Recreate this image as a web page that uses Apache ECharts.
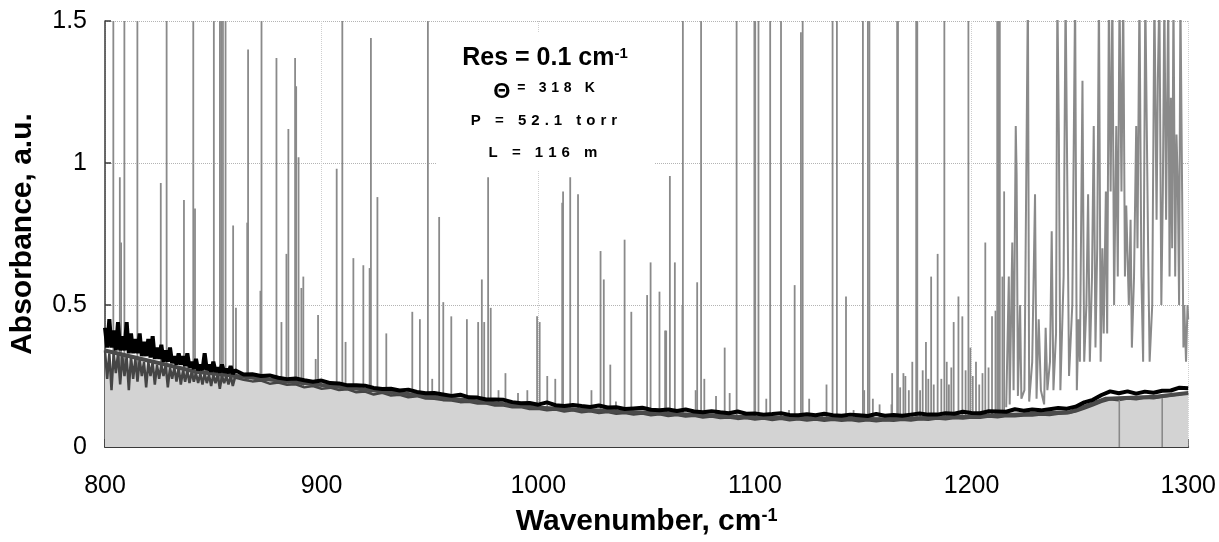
<!DOCTYPE html>
<html><head><meta charset="utf-8">
<script src="https://cdn.jsdelivr.net/npm/echarts@6/dist/echarts.min.js"></script>
<style>html,body{margin:0;padding:0;background:#fff}#c{width:1219px;height:542px}</style>
</head><body><div id="c"></div>
<script>
// ---------- data ----------
const xTickLabels = ['800', '900', '1000', '1100', '1200', '1300'];
const yTickLabels = ['0', '0.5', '1', '1.5'];

// isolated absorption lines [wavenumber, peak absorbance]; 1.6 = off scale (clipped at 1.5)
const peaks = [
  [803.8,1.6],[806.8,0.95],[807.4,0.72],[808.9,1.6],[814.9,1.6],[825.7,0.93],[828.4,1.6],
  [836.4,0.87],[840.7,1.6],[841.5,0.84],[850.2,1.6],[853.0,1.6],[853.6,1.6],[854.4,1.6],
  [855.6,1.6],[859.1,0.78],[860.4,0.49],[865.6,0.79],[866.0,1.40],[871.7,0.55],[872.2,1.6],
  [879.1,1.37],[881.4,0.44],[883.7,0.68],[884.6,1.12],[887.7,1.37],[888.2,1.27],[889.3,1.02],
  [890.6,0.56],[891.5,0.60],[897.2,0.31],[898.3,0.465],[906.9,0.98],[909.5,1.6],[911.0,0.37],
  [914.6,0.665],[919.2,0.64],[922.1,0.63],[922.7,1.44],[925.7,0.88],[929.8,0.40],[932.0,0.2],
  [940.0,0.2],[941.8,0.476],[945.3,0.45],[949.0,1.6],[951.0,0.24],[954.2,0.81],[956.1,0.51],
  [959.8,0.46],[967.0,0.45],[972.2,0.44],[973.9,0.59],[975.0,0.44],[976.8,0.95],[978.0,0.49],
  [981.6,0.2],[984.8,0.26],[990.6,0.19],[994.9,0.2],[999.4,0.46],[1000.6,0.44],[1004.1,0.25],
  [1007.8,0.24],[1011.0,0.86],[1011.4,0.90],[1014.7,0.95],[1018.3,0.89],[1024.5,0.2],
  [1028.7,0.69],[1030.2,0.59],[1033.2,0.29],[1035.8,0.16],[1039.8,0.73],[1042.9,0.476],
  [1050.2,0.535],[1051.8,0.65],[1055.9,0.547],[1058.5,0.41],[1059.0,0.41],[1060.7,0.954],
  [1063.0,0.65],[1066.5,0.5],[1066.7,1.6],[1072.6,0.2],[1073.3,0.58],[1075.1,1.6],[1076.6,0.24],
  [1082.0,0.18],[1086.0,0.35],[1088.3,0.19],[1091.5,1.6],[1099.7,1.6],[1100.1,1.6],[1101.6,1.6],
  [1105.2,0.17],[1107.0,1.6],[1112.0,1.6],[1115.7,0.13],[1118.3,0.57],[1121.2,1.46],[1122.0,1.6],
  [1125.0,0.17],[1131.0,0.12],[1133.0,0.22],[1135.8,1.6],[1137.8,1.6],[1142.0,0.53],[1145.5,0.13],
  [1149.8,1.6],[1150.4,0.2],[1152.1,1.6],[1152.8,1.6],[1154.4,0.17],[1157.5,0.15],[1163.0,0.15],
  [1163.3,0.26],[1165.6,1.6],[1166.0,1.6],[1167.0,0.21],[1168.5,0.26],[1169.4,0.25],[1171.0,0.2],
  [1172.6,0.3],[1174.4,1.6],[1174.9,1.6],[1176.2,0.2],[1177.4,0.27],[1178.9,0.37],[1180.0,0.24],
  [1181.3,0.60],[1182.5,0.22],[1184.3,0.68],[1186.0,0.24],[1187.4,1.6],[1188.5,0.3],[1189.5,0.22],
  [1190.6,0.28],[1191.7,0.44],[1193.9,0.53],[1195.7,0.46],[1197.2,0.27],[1198.5,1.6],[1199.4,0.35],
  [1200.5,0.25],[1202.0,0.3],[1203.5,0.22],[1205.0,0.26],[1206.3,0.72],[1207.8,0.28],[1209.4,0.46],
  [1211.0,0.48],[1211.8,1.6],[1212.3,1.6],[1213.0,1.6],[1214.2,0.6],[1215.0,0.90]
];

// dense line forest at the high-wavenumber end [wavenumber, absorbance]
const denseForest = [
  [1216.0,0.14],[1217.2,0.6],[1217.6,0.15],[1218.8,0.72],[1219.4,0.2],[1220.4,1.13],[1220.8,0.96],
  [1221.4,0.18],[1222.4,0.5],[1223.0,0.17],[1224.4,0.2],[1226.0,1.6],[1226.6,0.16],[1228.0,0.3],
  [1229.3,0.89],[1230.0,0.17],[1231.0,0.45],[1232.0,0.2],[1233.5,0.15],[1234.2,0.42],[1235.0,0.2],
  [1236.2,0.3],[1237.0,0.76],[1237.8,0.2],[1239.0,0.4],[1239.6,1.6],[1240.3,1.1],[1241.0,0.2],
  [1242.5,0.6],[1243.4,1.6],[1244.2,1.6],[1245.0,0.25],[1246.5,0.5],[1247.8,1.6],[1248.6,0.2],
  [1249.4,0.45],[1250.0,0.3],[1251.2,1.29],[1252.0,0.3],[1253.0,0.5],[1253.8,0.89],[1254.6,0.3],
  [1255.6,0.6],[1256.4,1.13],[1257.2,0.35],[1258.0,0.7],[1258.8,1.6],[1259.6,0.3],[1260.4,0.7],
  [1261.0,0.4],[1262.0,0.9],[1262.6,0.4],[1263.4,1.6],[1264.2,0.9],[1265.0,1.6],[1265.8,0.5],
  [1266.8,1.13],[1267.5,0.6],[1268.3,1.6],[1269.2,0.9],[1270.0,1.6],[1270.8,0.6],[1271.4,0.85],
  [1272.6,0.5],[1273.4,0.8],[1274.0,0.35],[1275.0,0.6],[1276.0,1.13],[1276.6,0.7],[1277.5,1.6],
  [1278.4,0.6],[1279.2,0.3],[1280.2,1.6],[1281.5,0.7],[1282.2,0.3],[1283.4,0.5],[1284.4,1.6],
  [1285.4,0.8],[1286.0,1.3],[1286.7,1.6],[1287.6,0.5],[1288.3,0.9],[1289.0,1.6],[1289.8,0.8],
  [1290.8,1.6],[1291.4,0.6],[1292.0,1.23],[1292.6,0.7],[1293.2,1.6],[1294.0,0.6],[1294.6,1.1],
  [1295.2,0.93],[1295.8,0.5],[1296.4,1.6],[1297.2,0.9],[1297.8,0.35],[1298.2,0.5],[1299.0,0.3],
  [1299.7,0.5],[1300.0,0.45]
];

// upper (black) noisy trace
const blackTrace = [
  [800,.42],[801,.35],[802,.45],[803,.35],[804,.41],[805,.34],[806,.44],[807,.34],[808,.39],[809,.34],
  [810,.44],[811,.33],[812,.40],[813,.33],[814,.38],[815,.33],[816,.40],[817,.32],[818,.37],[819,.32],
  [820,.38],[821,.315],[822,.39],[823,.31],[824,.35],[825,.31],[826,.36],[827,.30],[828,.34],[829,.30],
  [830,.35],[831,.295],[832,.32],[833,.29],[834,.33],[835,.29],[836,.32],[837,.285],[838,.33],[839,.28],
  [840,.30],[841,.275],[842,.31],[843,.27],[844,.29],[845,.27],[846,.33],[847,.27],[848,.29],[849,.265],
  [850,.30],[851,.265],[852,.28],[853,.262],[854,.29],[855,.262],[856,.275],[857,.26],[858,.285],[859,.257],
  [860,.27],[864,.255],[868,.256],[872,.25],[876,.252],[880,.244],[884,.239],[888,.241],[892,.235],
  [896,.23],[900,.234],[904,.225],[908,.224],[912,.217],[916,.217],[920,.216],[924,.208],[928,.204],
  [932,.205],[936,.199],[940,.202],[944,.194],[948,.189],[952,.19],[956,.185],[960,.18],[964,.184],
  [968,.175],[972,.174],[976,.167],[980,.167],[984,.166],[988,.158],[992,.154],[996,.155],[1000,.149],
  [1004,.157],[1008,.147],[1012,.144],[1016,.148],[1020,.144],[1024,.141],[1028,.146],[1032,.139],
  [1036,.14],[1040,.134],[1044,.136],[1048,.138],[1052,.131],[1056,.129],[1060,.132],[1064,.127],
  [1068,.132],[1072,.125],[1076,.122],[1080,.126],[1084,.122],[1088,.119],[1092,.125],[1096,.117],
  [1100,.118],[1104,.114],[1108,.116],[1112,.119],[1116,.113],[1120,.112],[1124,.115],[1128,.112],
  [1132,.117],[1136,.112],[1140,.11],[1144,.114],[1148,.112],[1152,.109],[1156,.116],[1160,.11],
  [1164,.113],[1168,.11],[1172,.114],[1176,.118],[1180,.114],[1184,.114],[1188,.119],[1192,.117],
  [1196,.124],[1200,.12],[1204,.119],[1208,.126],[1212,.125],[1216,.124],[1220,.133],[1224,.128],
  [1228,.132],[1232,.129],[1236,.133],[1240,.137],[1244,.135],[1248,.142],[1252,.157],[1256,.166],
  [1260,.183],[1264,.196],[1268,.189],[1272,.196],[1276,.188],[1280,.195],[1284,.191],[1288,.198],
  [1292,.199],[1296,.209],[1300,.207]
];

// lower (dark grey) noisy trace, top of the filled region
const lowerTrace = [
  [800,.34],[801,.24],[802,.33],[803,.20],[804,.33],[805,.26],[806,.33],[807,.22],[808,.32],[809,.25],
  [810,.32],[811,.20],[812,.32],[813,.24],[814,.31],[815,.23],[816,.31],[817,.25],[818,.30],[819,.21],
  [820,.30],[821,.25],[822,.30],[823,.22],[824,.29],[825,.24],[826,.29],[827,.25],[828,.29],[829,.21],
  [830,.28],[831,.24],[832,.28],[833,.23],[834,.28],[835,.22],[836,.27],[837,.23],[838,.27],[839,.225],
  [840,.265],[841,.23],[842,.26],[843,.225],[844,.26],[845,.22],[846,.26],[847,.225],[848,.255],[849,.215],
  [850,.255],[851,.225],[852,.255],[853,.205],[854,.25],[855,.225],[856,.25],[857,.22],[858,.25],[859,.215],
  [860,.245],[864,.237],[868,.231],[872,.234],[876,.223],[880,.227],[884,.219],[888,.221],[892,.21],
  [896,.215],[900,.205],[904,.209],[908,.201],[912,.203],[916,.193],[920,.195],[924,.185],[928,.191],
  [932,.181],[936,.184],[940,.175],[944,.179],[948,.171],[952,.17],[956,.165],[960,.164],[964,.158],
  [968,.159],[972,.153],[976,.153],[980,.146],[984,.146],[988,.14],[992,.141],[996,.134],[1000,.135],
  [1004,.129],[1008,.132],[1012,.125],[1016,.129],[1020,.122],[1024,.126],[1028,.12],[1032,.123],
  [1036,.117],[1040,.12],[1044,.114],[1048,.118],[1052,.112],[1056,.115],[1060,.109],[1064,.113],
  [1068,.107],[1072,.11],[1076,.104],[1080,.107],[1084,.102],[1088,.104],[1092,.099],[1096,.102],
  [1100,.097],[1104,.1],[1108,.095],[1112,.099],[1116,.094],[1120,.098],[1124,.093],[1128,.097],
  [1132,.092],[1136,.096],[1140,.092],[1144,.095],[1148,.091],[1152,.094],[1156,.091],[1160,.094],
  [1164,.092],[1168,.096],[1172,.093],[1176,.098],[1180,.096],[1184,.1],[1188,.098],[1192,.102],
  [1196,.1],[1200,.104],[1204,.103],[1208,.107],[1212,.105],[1216,.109],[1220,.108],[1224,.111],
  [1228,.111],[1232,.114],[1236,.113],[1240,.117],[1244,.119],[1248,.125],[1252,.135],[1256,.147],
  [1260,.159],[1264,.168],[1268,.165],[1272,.171],[1276,.168],[1280,.173],[1284,.172],[1288,.177],
  [1292,.181],[1296,.186],[1300,.19]
];

// smooth fitted baseline
const fitBaseline = [
  [800,.34],[842,.265],[900,.218],[1000,.138],[1100,.104],[1160,.098],[1200,.107],
  [1245,.122],[1262,.17],[1285,.177],[1300,.19]
];

// two lines reaching down to zero inside the filled region
const dipLines = [[1268.2,0.17],[1288.0,0.18]];

const annotation = ['Res = 0.1 cm', '-1', 'Θ', '= 318 K', 'P = 52.1 torr', 'L = 116 m'];
const xTitle = ['Wavenumber, cm', '-1'];
const yTitle = 'Absorbance, a.u.';

// ---------- chart ----------
const FF = '"Liberation Sans", Arial, sans-serif';
function spaced(s) {
  return s.split(' ').map(w => w.split('').join('\u2004')).join('\u2004 \u2004');
}
const chart = echarts.init(document.getElementById('c'), null, {renderer: 'canvas'});
const GREY = '#8a8a8a';
chart.setOption({
  animation: false,
  backgroundColor: '#fff',
  grid: {left: 104, right: 30, top: 21, bottom: 95, containLabel: false},
  xAxis: {
    type: 'value', min: 800, max: 1300, interval: 100,
    axisLine: {lineStyle: {color: '#3a3a3a', width: 2}},
    axisTick: {inside: true, length: 8, lineStyle: {color: '#3a3a3a', width: 1.5}},
    axisLabel: {fontSize: 25, fontFamily: FF, color: '#000', margin: 27,
      formatter: v => xTickLabels[Math.round((v - 800) / 100)]},
    splitLine: {show: true, lineStyle: {color: '#cfcfcf', type: 'dotted', width: 1}},
    name: '{a|' + xTitle[0] + '}{s|' + xTitle[1] + '}',
    nameLocation: 'middle', nameGap: 60,
    nameTextStyle: {rich: {
      a: {fontSize: 30, fontWeight: 'bold', fontFamily: FF, color: '#000'},
      s: {fontSize: 18, fontWeight: 'bold', fontFamily: FF, color: '#000', verticalAlign: 'top'}
    }}
  },
  yAxis: {
    type: 'value', min: 0, max: 1.5, interval: 0.5,
    axisLine: {show: true, lineStyle: {color: '#3a3a3a', width: 1.5}},
    axisTick: {show: true, inside: true, length: 6, lineStyle: {color: '#3a3a3a', width: 1.5}},
    axisLabel: {fontSize: 25, fontFamily: FF, color: '#000', margin: 18,
      formatter: v => yTickLabels[Math.round(v / 0.5)]},
    splitLine: {show: true, lineStyle: {color: '#b4b4b4', type: 'dotted', width: 1}},
    name: yTitle, nameLocation: 'middle', nameGap: 67,
    nameTextStyle: {fontSize: 30, fontWeight: 'bold', fontFamily: FF, color: '#000'}
  },
  series: [
    {type: 'bar', name: 'lines', data: peaks, barWidth: 1.8, barGap: '-100%', clip: true,
     itemStyle: {color: GREY}, z: 1, silent: true},
    {type: 'line', name: 'forest', data: denseForest, symbol: 'none', clip: true,
     lineStyle: {color: GREY, width: 2}, z: 1, silent: true},
    {type: 'line', name: 'lower', data: lowerTrace, symbol: 'none',
     lineStyle: {color: '#454545', width: 2.5}, areaStyle: {color: '#d3d3d3', opacity: 1}, z: 2, silent: true},
    {type: 'bar', name: 'dips', data: dipLines, barWidth: 1.6, barGap: '-100%',
     itemStyle: {color: GREY}, z: 3, silent: true},
    {type: 'line', name: 'fit', data: fitBaseline, symbol: 'none',
     lineStyle: {color: '#4a4a4a', width: 4}, z: 3, silent: true},
    {type: 'line', name: 'black', data: blackTrace, symbol: 'none',
     lineStyle: {color: '#000', width: 4}, z: 4, silent: true}
  ],
  graphic: {elements: [
    {type: 'rect', shape: {x: 437, y: 33, width: 218, height: 137}, style: {fill: '#fff'}, z: 100, silent: true},
    {type: 'text', x: 545, y: 46, z: 101, silent: true, style: {
      text: '{a|' + annotation[0] + '}{s|' + annotation[1] + '}', align: 'center', verticalAlign: 'top',
      rich: {a: {font: 'bold 25px ' + FF, fill: '#000'}, s: {font: 'bold 15px ' + FF, fill: '#000', verticalAlign: 'top'}}}},
    {type: 'text', x: 544, y: 81, z: 101, silent: true, style: {
      text: '{t|' + annotation[2] + '}{s|\u2002' + spaced(annotation[3]) + '}', align: 'center', verticalAlign: 'top',
      rich: {t: {font: 'bold 22px ' + FF, fill: '#000'}, s: {font: 'bold 14px ' + FF, fill: '#000', verticalAlign: 'top'}}}},
    {type: 'text', x: 544, y: 121, z: 101, silent: true, style: {
      text: spaced(annotation[4]), font: 'bold 15px ' + FF, fill: '#000', align: 'center', verticalAlign: 'middle'}},
    {type: 'text', x: 543, y: 153, z: 101, silent: true, style: {
      text: spaced(annotation[5]), font: 'bold 15px ' + FF, fill: '#000', align: 'center', verticalAlign: 'middle'}}
  ]}
});
</script></body></html>
